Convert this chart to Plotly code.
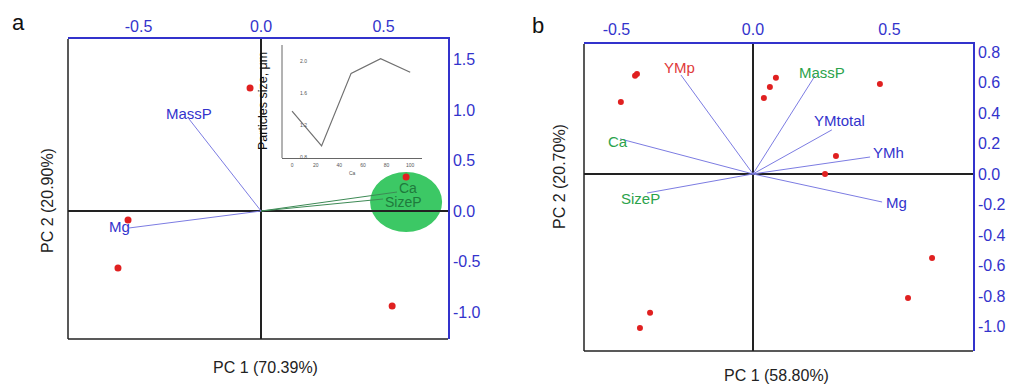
import plotly.graph_objects as go

# ---------------- data ----------------
# Panel a: scores and loadings
a_score_x = [-0.045, 0.592, -0.543, -0.584, 0.535]
a_score_y = [1.218, 0.337, -0.089, -0.564, -0.941]
a_load_names = ["MassP", "Mg", "Ca", "SizeP"]
a_load_x = [-0.294, -0.539, 0.555, 0.498]
a_load_y = [0.911, -0.168, 0.188, 0.119]
a_cluster_center = [0.592, 0.089]
a_cluster_radius = [0.147, 0.297]

# Inset: particle size vs Ca
inset_ca = [0, 25, 50, 75, 100]
inset_size = [1.375, 0.94, 1.846, 2.03, 1.86]

# Panel b: scores and loadings
b_score_x = [-0.484, -0.432, -0.425, 0.084, 0.062, 0.040, 0.465, 0.304, 0.264,
             -0.377, -0.414, 0.656, 0.568]
b_score_y = [0.472, 0.643, 0.656, 0.630, 0.570, 0.498, 0.590, 0.118, 0.000,
             -0.911, -1.010, -0.551, -0.813]
b_load_names = ["YMp", "MassP", "YMtotal", "YMh", "Mg", "Ca", "SizeP"]
b_load_x = [-0.264, 0.227, 0.289, 0.429, 0.473, -0.487, -0.388]
b_load_y = [0.649, 0.643, 0.289, 0.111, -0.184, 0.230, -0.125]

# tick labels
a_xticks = [-0.5, 0.0, 0.5]
a_xticktext = ["-0.5", "0.0", "0.5"]
a_yticks = [-1.0, -0.5, 0.0, 0.5, 1.0, 1.5]
a_yticktext = ["-1.0", "-0.5", "0.0", "0.5", "1.0", "1.5"]
b_xticks = [-0.5, 0.0, 0.5]
b_xticktext = ["-0.5", "0.0", "0.5"]
b_yticks = [-1.0, -0.8, -0.6, -0.4, -0.2, 0.0, 0.2, 0.4, 0.6, 0.8]
b_yticktext = ["-1.0", "-0.8", "-0.6", "-0.4", "-0.2", "0.0", "0.2", "0.4", "0.6", "0.8"]
inset_xticks = [0, 20, 40, 60, 80, 100]
inset_yticks = [0.8, 1.2, 1.6, 2.0]
inset_yticktext = ["0.8", "1.2", "1.6", "2.0"]

# ---------------- styles ----------------
PAGE_OFF = 8            # default body margin of the html page
W, H = 1015, 387
FONT = "Liberation Sans, Arial, sans-serif"
BLUE = "#3333cc"
LBLUE = "#7c7ce2"
GREEN_TXT_A = "#1f7a3c"
GREEN_LINE_A = "#3d8a55"
GREEN_TXT_B = "#2ba34b"
RED = "#e02020"
RED_TXT = "#e03a3a"

a_label_style = {
    "MassP": dict(color=BLUE, line=LBLUE, dx=0, dy=6, size=15),
    "Mg": dict(color=BLUE, line=LBLUE, dx=-10, dy=1, size=15),
    "Ca": dict(color=GREEN_TXT_A, line=GREEN_LINE_A, dx=11, dy=4, size=14),
    "SizeP": dict(color=GREEN_TXT_A, line=GREEN_LINE_A, dx=20, dy=-3, size=14),
}
b_label_style = {
    "YMp": dict(color=RED_TXT, dx=-1, dy=7),
    "MassP": dict(color=GREEN_TXT_B, dx=7, dy=3),
    "YMtotal": dict(color=BLUE, dx=8, dy=9),
    "YMh": dict(color=BLUE, dx=18, dy=5),
    "Mg": dict(color=BLUE, dx=14, dy=-1),
    "Ca": dict(color=GREEN_TXT_B, dx=-2, dy=-3),
    "SizeP": dict(color=GREEN_TXT_B, dx=-7, dy=-6),
}


def px(x):
    return (x - PAGE_OFF) / W


def py(y):
    return 1 - (y - PAGE_OFF) / H


fig = go.Figure()

# ---- panel a loadings (lines) ----
for name, lx, ly in zip(a_load_names, a_load_x, a_load_y):
    st = a_label_style[name]
    fig.add_trace(go.Scatter(x=[0, lx], y=[0, ly], mode="lines",
                             line=dict(color=st["line"], width=1),
                             xaxis="x", yaxis="y", showlegend=False, hoverinfo="skip"))
# ---- panel a scores ----
fig.add_trace(go.Scatter(x=a_score_x, y=a_score_y, mode="markers",
                         marker=dict(color=RED, size=7), xaxis="x", yaxis="y",
                         showlegend=False))

# ---- inset ----
fig.add_trace(go.Scatter(x=inset_ca, y=inset_size, mode="lines",
                         line=dict(color="#707070", width=1.2),
                         xaxis="x3", yaxis="y3", showlegend=False))

# ---- panel b loadings ----
for name, lx, ly in zip(b_load_names, b_load_x, b_load_y):
    fig.add_trace(go.Scatter(x=[0, lx], y=[0, ly], mode="lines",
                             line=dict(color=LBLUE, width=1),
                             xaxis="x2", yaxis="y2", showlegend=False, hoverinfo="skip"))
fig.add_trace(go.Scatter(x=b_score_x, y=b_score_y, mode="markers",
                         marker=dict(color=RED, size=6), xaxis="x2", yaxis="y2",
                         showlegend=False))

annotations = []
for name, lx, ly in zip(a_load_names, a_load_x, a_load_y):
    st = a_label_style[name]
    annotations.append(dict(x=lx, y=ly, xref="x", yref="y", text=name, showarrow=False,
                            xshift=st["dx"], yshift=st["dy"],
                            xanchor="center", yanchor="middle",
                            font=dict(family=FONT, size=st["size"], color=st["color"])))
for name, lx, ly in zip(b_load_names, b_load_x, b_load_y):
    st = b_label_style[name]
    annotations.append(dict(x=lx, y=ly, xref="x2", yref="y2", text=name, showarrow=False,
                            xshift=st["dx"], yshift=st["dy"],
                            xanchor="center", yanchor="middle",
                            font=dict(family=FONT, size=15, color=st["color"])))

# axis titles and panel letters
txt = dict(family=FONT, size=16, color="#222222")


def paper_text(x, y, text, font, angle=0):
    return dict(x=px(x), y=py(y), xref="paper", yref="paper", text=text,
                showarrow=False, textangle=angle, xanchor="center", yanchor="middle",
                font=font)


annotations += [
    paper_text(265, 367, "PC 1 (70.39%)", txt),
    paper_text(47, 201, "PC 2 (20.90%)", txt, -90),
    paper_text(776, 375, "PC 1 (58.80%)", txt),
    paper_text(560, 177, "PC 2 (20.70%)", txt, -90),
    paper_text(18, 23, "a", dict(family=FONT, size=22, color="#111111")),
    paper_text(538, 25, "b", dict(family=FONT, size=22, color="#111111")),
    paper_text(263, 101, "Particles size, μm", dict(family=FONT, size=12.5, color="#111111"), -90),
    paper_text(352, 173, "Ca", dict(family=FONT, size=5, color="#555555")),
]

shapes = [
    # green cluster ellipse (panel a)
    dict(type="circle", xref="x", yref="y", layer="below",
         x0=a_cluster_center[0] - a_cluster_radius[0], x1=a_cluster_center[0] + a_cluster_radius[0],
         y0=a_cluster_center[1] - a_cluster_radius[1], y1=a_cluster_center[1] + a_cluster_radius[1],
         fillcolor="#3cc865", line=dict(width=0)),
    # black left / bottom frame lines
    dict(type="line", xref="x domain", yref="y domain", x0=0, x1=0, y0=0, y1=1,
         line=dict(color="#222222", width=1.5)),
    dict(type="line", xref="x domain", yref="y domain", x0=0, x1=1, y0=0, y1=0,
         line=dict(color="#222222", width=1.5)),
    dict(type="line", xref="x2 domain", yref="y2 domain", x0=0, x1=0, y0=0, y1=1,
         line=dict(color="#222222", width=1.5)),
    dict(type="line", xref="x2 domain", yref="y2 domain", x0=0, x1=1, y0=0, y1=0,
         line=dict(color="#222222", width=1.5)),
    # inset left axis line
    dict(type="line", xref="x3 domain", yref="y3 domain", x0=0, x1=0, y0=0, y1=1,
         line=dict(color="#666666", width=1)),
]

blue_axis = dict(showline=True, linecolor=BLUE, linewidth=1.5, ticks="", showgrid=False,
                 zeroline=True, zerolinecolor="#222222", zerolinewidth=1.5, automargin=False,
                 tickfont=dict(family=FONT, size=16, color=BLUE))

fig.update_layout(
    width=W, height=H, margin=dict(l=0, r=0, t=0, b=0, autoexpand=False),
    paper_bgcolor="white", plot_bgcolor="rgba(0,0,0,0)",
    showlegend=False,
    xaxis=dict(blue_axis, domain=[px(68), px(448)], range=[-0.788, 0.763], side="top",
               anchor="y", tickvals=a_xticks, ticktext=a_xticktext, ticklabelstandoff=-1),
    yaxis=dict(blue_axis, domain=[py(339), py(39)], range=[-1.267, 1.703], side="right",
               anchor="x", tickvals=a_yticks, ticktext=a_yticktext, ticklabelstandoff=0),
    xaxis2=dict(blue_axis, domain=[px(584), px(973)], range=[-0.619, 0.806], side="top",
                anchor="y2", tickvals=b_xticks, ticktext=b_xticktext, ticklabelstandoff=1),
    yaxis2=dict(blue_axis, domain=[py(351), py(44)], range=[-1.161, 0.852], side="right",
                anchor="x2", tickvals=b_yticks, ticktext=b_yticktext, ticklabelstandoff=0),
    xaxis3=dict(domain=[px(282), px(422)], range=[-8.5, 110], anchor="y3", automargin=False,
                showline=True, linecolor="#666666", linewidth=1, ticks="", showgrid=False,
                zeroline=False, tickvals=inset_xticks,
                tickfont=dict(family=FONT, size=5, color="#555555"), ticklabelstandoff=2),
    yaxis3=dict(domain=[py(158), py(45)], range=[0.79, 2.2], anchor="free", automargin=False,
                position=px(307), showline=False, ticks="", showgrid=False,
                zeroline=False, tickvals=inset_yticks, ticktext=inset_yticktext,
                tickfont=dict(family=FONT, size=5, color="#555555")),
    annotations=annotations,
    shapes=shapes,
)

fig.write_html("out.html")
